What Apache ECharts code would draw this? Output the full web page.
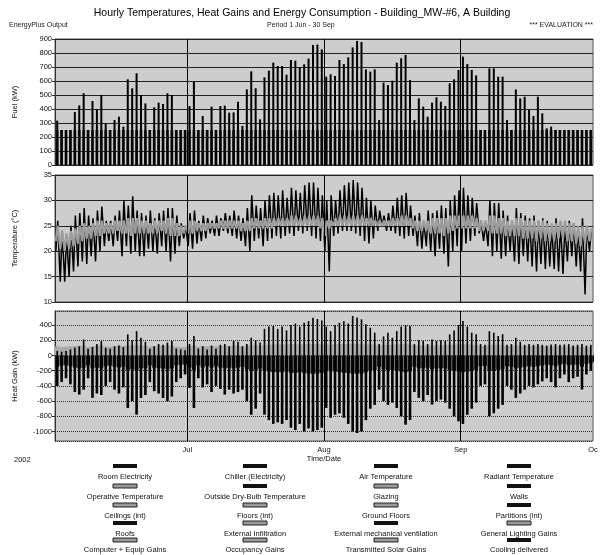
<!DOCTYPE html>
<html><head><meta charset="utf-8">
<script src="https://cdn.jsdelivr.net/npm/echarts@6/dist/echarts.min.js"></script>
<style>html,body{margin:0;padding:0;background:#fff}#c{width:604px;height:555px}</style>
</head><body><div id="c"></div>
<script>
// ---- data (day index 0 = 1 Jun 2002) ----
const monthDays = [30, 61, 92, 122];
const monthLabels = ['Jul', 'Aug', 'Sep', 'Oc'];

const fuelBase = [
250,250,250,250,250,250,250,250,250,250,
250,250,250,250,250,250,250,250,250,250,
250,250,250,250,250,250,250,250,250,250,
250,250,250,250,250,250,250,250,250,250,
250,250,250,250,250,250,250,250,250,250,
250,250,250,250,250,250,250,250,250,250,
250,250,250,250,250,250,250,250,250,250,
250,250,250,250,250,250,250,250,250,250,
250,250,250,250,250,250,250,250,250,250,
250,250,250,250,250,250,250,250,250,250,
250,250,250,250,250,250,250,250,250,250,
250,250,250,250,250,250,250,250,250,250,
250,250];
const fuelPeak = [
317,250,250,250,378,426,512,250,457,400,
500,298,250,321,345,274,612,548,655,498,
440,250,412,445,436,512,500,250,250,250,
421,595,250,350,250,417,250,421,424,374,
376,452,279,540,669,548,326,626,674,731,
707,707,645,750,745,698,719,760,857,860,
826,631,648,636,750,721,769,840,886,879,
683,667,683,321,588,571,602,731,762,786,
607,321,476,417,345,445,483,452,421,583,
612,679,774,721,679,640,250,250,690,690,
631,631,321,250,540,476,488,393,350,488,
369,262,274,250,250,250,250,250,250,250,
250,250];

const outMax = [
26,24,23,25,27,27.5,28.5,27,26.5,28,
28.8,26,26,27,28,30,29,30.8,28,27.5,
27,28,26.5,27.5,28,28.5,28.5,27,25.5,25,
27.5,28,26,27,26.5,26,27,26.5,27.5,27,
28,27,26.5,28.5,31,29,28.5,30,31,31.5,
31,32,30.5,32.5,32,31.5,33,33.5,33.5,32.5,31,
30,31,30,32,33,33.5,34,33.5,32.5,30.5,
30,29,28,27,27.5,29,30.5,31,31.5,29,
27,27.5,26,28,27.5,28,29,28.5,30,31,32,
32.5,31,30.5,29.5,26,25.5,30,29.5,29.5,28,
27,26,28.5,27.5,27,26.5,27,26,26.5,26,
25,26.5,25.5,25,26,25.5,24.5,26.5,25,24];
const outMin = [
20,14,14,15,16,17,18,17.5,19,18,
20,21,22,21,22,19,21,19.5,20,19,
19,20.5,20,19.5,21,20,18,19.5,21,22.5,
21,20.5,21.5,22,22.5,23.5,23,23,24,23.5,
23,22.5,22,21,20,22,22.5,21,22,22.5,
23,22.5,23,23.5,23,24,23.5,24,23,22.5,22,
20,16,23,23.5,24,24,24,23.5,23,22,
21.5,22.5,24,25,24,24,23.5,23,22.5,23,
23,21,20.5,21,20,19,20.5,19.5,17,20,21,
20,21.5,22,23,23.5,22,21,19,20,18.5,
19,20,18,17.5,19,18,17,16,17.5,16.5,
17,16.5,16,15.5,18,19,17,16,11.5,20];

const inMax = [
25,24,23.5,24,24.5,25,25.5,25,25.5,26,
26,25.5,25.5,26,26,26,26.5,26.5,26.5,26,
26,25.5,26,26,26,26.5,26.5,25.5,25,25,
26,26,25.5,25.5,25.5,25.5,25.5,26,26,26,
26,26,25.5,26,26.5,26.5,26,26.5,26.5,26.5,
26.5,26.5,26.5,27,27,26.5,27,27,27,27,
26.5,26,26,26.5,27,27,27,27,27,27,
26.5,26.5,26,26,26,26,26.5,26.5,27,27,
26.5,26,26,26,26,26.5,26.5,26.5,26.5,27,
27,27,27,27,27,26.5,26,26,27,27,
26.5,26.5,26,26,26.5,26.5,26,26,26,26,
26,25.5,25.5,25.5,26,26,25.5,25.5,25,25,
25,24.5];
const inMin = [
22,20.5,20,20.5,21,21.5,22,22.5,22.5,23,
23,23.5,23.5,23.5,24,23.5,23.5,23,23.5,23.5,
23.5,23.5,23.5,23.5,24,23.5,23,23,23,23.5,
23.5,23.5,24,24,24,24.5,24.5,24.5,24.5,24.5,
24.5,24.5,24,24,24,24.5,24.5,24.5,24.5,24.5,
25,25,25,25,25,25,25,25,25,25,
24.5,23,24.5,25,25,25,25,25,25,25,
25,25,25,25,25,25,25,25,25,25,
25,24.5,24,24,24,23.5,23.5,23.5,23,23.5,
24,24.5,24.5,24.5,24.5,24.5,24,24,24,23.5,
23.5,23.5,23,23,23,23,22.5,22.5,22.5,22,
22.5,22,22,22,22.5,22.5,22,22,21.5,21,
21.5,22];

const heatPos = [
60,50,60,80,100,120,210,90,110,150,
189,100,90,120,130,110,277,200,321,233,
180,90,120,150,140,170,189,90,80,70,
150,255,90,120,80,130,90,140,150,120,
190,180,120,150,233,200,170,350,380,387,
350,380,330,400,420,380,430,452,497,480,
460,380,320,400,430,450,420,520,500,475,
410,365,300,150,250,300,233,320,380,400,
387,150,200,190,150,211,190,200,190,277,
330,400,452,380,300,280,150,140,320,300,
255,280,140,150,233,180,140,150,140,150,
140,130,145,150,140,145,150,130,140,150,
130,140];
const heatNeg = [
-400,-350,-300,-380,-480,-514,-450,-300,-558,-500,
-520,-400,-350,-450,-500,-420,-690,-600,-778,-560,
-520,-350,-470,-500,-560,-600,-540,-350,-300,-250,
-426,-690,-300,-420,-380,-480,-400,-440,-514,-450,
-500,-480,-450,-600,-780,-700,-500,-778,-850,-900,
-880,-900,-850,-950,-980,-900,-1000,-960,-1000,-980,
-950,-690,-820,-780,-760,-820,-900,-1000,-1020,-1000,
-850,-700,-650,-450,-600,-650,-620,-690,-800,-910,
-850,-480,-558,-600,-520,-646,-600,-580,-620,-700,
-800,-866,-900,-780,-700,-620,-400,-380,-800,-760,
-700,-650,-400,-450,-558,-500,-450,-400,-420,-380,
-340,-300,-350,-420,-300,-250,-350,-300,-280,-448,
-250,-200];
const gainBand = [
120,110,115,120,125,130,130,115,125,125,
130,120,115,125,130,125,135,130,135,130,
125,115,125,130,130,130,130,115,110,110,
125,130,115,125,120,125,120,125,130,125,
130,130,125,130,135,135,130,140,140,145,
145,145,140,150,150,145,150,150,150,150,
145,140,140,145,150,150,150,155,155,150,
145,145,140,130,140,140,140,145,145,150,
145,130,135,135,130,135,135,135,135,140,
140,145,150,145,140,140,125,125,140,140,
135,135,125,125,130,130,125,125,125,125,
125,120,120,120,120,120,120,115,115,115,
115,110];
const negBase = [
-150,-130,-130,-140,-160,-170,-160,-130,-170,-160,
-170,-140,-130,-150,-160,-150,-190,-180,-200,-170,
-170,-130,-160,-170,-170,-180,-170,-130,-120,-120,
-160,-190,-130,-160,-140,-160,-140,-160,-170,-160,
-170,-160,-150,-180,-200,-190,-170,-200,-210,-220,
-220,-220,-210,-230,-230,-220,-230,-240,-240,-240,
-230,-190,-210,-210,-220,-230,-230,-240,-240,-240,
-220,-200,-190,-150,-180,-190,-190,-200,-210,-220,
-210,-150,-170,-170,-160,-180,-170,-170,-170,-190,
-200,-210,-220,-210,-200,-190,-140,-140,-200,-200,
-190,-180,-140,-150,-170,-160,-150,-140,-150,-140,
-130,-120,-130,-140,-120,-110,-130,-120,-120,-150,
-110,-100];

const legendNames = [
'Room Electricity','Chiller (Electricity)','Air Temperature','Radiant Temperature',
'Operative Temperature','Outside Dry-Bulb Temperature','Glazing','Walls',
'Ceilings (int)','Floors (int)','Ground Floors','Partitions (int)',
'Roofs','External Infiltration','External mechanical ventilation','General Lighting Gains',
'Computer + Equip Gains','Occupancy Gains','Transmitted Solar Gains','Cooling delivered'];
const legendKinds = [
'solid','solid','solid','solid',
'dot','solid','dot','solid',
'dot','dot','dot','solid',
'solid','dot','solid','dot',
'dot','dot','dot','solid'];

// ---- build chart ----
const FONT = '"Liberation Sans", Arial, sans-serif';
const chart = echarts.init(document.getElementById('c'));

function rangeBars(arrTop, arrBottom) {
  return arrTop.map((v, d) => [d + 0.5, arrBottom ? arrBottom[d] : 0, v]);
}
function zigzag(lo, hi) {
  const out = [];
  lo.forEach((v, d) => { out.push([d + 0.2, v]); out.push([d + 0.62, hi[d]]); });
  return out;
}
function barRenderer(width, fill) {
  return function (params, api) {
    const p0 = api.coord([api.value(0), api.value(1)]);
    const p1 = api.coord([api.value(0), api.value(2)]);
    return {
      type: 'rect',
      shape: { x: p0[0] - width / 2, y: Math.min(p0[1], p1[1]), width: width, height: Math.abs(p1[1] - p0[1]) },
      style: { fill: fill }
    };
  };
}
function customBars(grid, data, width, fill, z) {
  return {
    type: 'custom', xAxisIndex: grid, yAxisIndex: grid, data: data, z: z || 2,
    renderItem: barRenderer(width, fill), encode: { x: 0, y: [1, 2] }, clip: true, silent: true, animation: false
  };
}
function monthLines(grid) {
  return {
    type: 'line', xAxisIndex: grid, yAxisIndex: grid, data: [], silent: true, z: 5,
    markLine: {
      silent: true, symbol: ['none', 'none'], animation: false,
      label: { show: false },
      lineStyle: { color: '#000', type: 'solid', width: 1 },
      data: monthDays.slice(0, 3).map(v => ({ xAxis: v }))
    }
  };
}

const gridStyle = { show: true, backgroundColor: '#cdcdcd', borderColor: '#555', borderWidth: 1, left: 55, right: 11 };
const yCommon = {
  axisLine: { show: true, lineStyle: { color: '#333' } },
  axisTick: { show: true, length: 3, lineStyle: { color: '#333' } },
  axisLabel: { fontSize: 7.5, color: '#111', fontFamily: FONT, margin: 3, formatter: v => String(v) },
  nameLocation: 'middle', nameRotate: 90,
  nameTextStyle: { fontSize: 7.5, color: '#111', fontFamily: FONT }
};
function xAx(grid, show) {
  return {
    type: 'value', gridIndex: grid, min: 0, max: 122,
    splitLine: { show: false }, axisLine: { show: false },
    axisTick: show ? { show: true, length: 6, customValues: monthDays, lineStyle: { color: '#000' } } : { show: false },
    axisLabel: show ? {
      show: true, customValues: monthDays, fontSize: 7.5, color: '#111', fontFamily: FONT, margin: 5,
      formatter: v => monthLabels[monthDays.indexOf(v)]
    } : { show: false },
    name: show ? 'Time/Date' : '', nameLocation: 'middle', nameGap: 13,
    nameTextStyle: { fontSize: 7.5, color: '#111', fontFamily: FONT }
  };
}

const graphics = [];
const colX = [125, 255, 386, 519];
const rowSampleY = [466, 486, 505, 523, 540];
const rowTextY = [477, 497, 516, 534, 550];
legendNames.forEach((n, i) => {
  const c = i % 4, r = Math.floor(i / 4);
  const solid = legendKinds[i] === 'solid';
  graphics.push({
    type: 'rect', silent: true,
    shape: { x: colX[c] - 12, y: rowSampleY[r] - 2, width: 24, height: 4 },
    style: solid ? { fill: '#111' } : { fill: '#9a9a9a', stroke: '#222', lineWidth: 1 }
  });
  graphics.push({
    type: 'text', silent: true, x: colX[c], y: rowTextY[r],
    style: { text: n, fill: '#111', font: '7.5px ' + FONT, textAlign: 'center', textVerticalAlign: 'middle', align: 'center', verticalAlign: 'middle' }
  });
});
graphics.push({ type: 'text', silent: true, x: 14, y: 460,
  style: { text: '2002', fill: '#111', font: '7.5px ' + FONT, textVerticalAlign: 'middle', verticalAlign: 'middle' } });

const option = {
  animation: false,
  backgroundColor: '#fff',
  title: [
    { text: 'Hourly Temperatures, Heat Gains and Energy Consumption - Building_MW-#6, A Building', left: 'center', top: 3,
      textStyle: { fontSize: 10.5, fontWeight: 'normal', color: '#000', fontFamily: FONT } },
    { text: 'EnergyPlus Output', left: 4, top: 17, textStyle: { fontSize: 7, fontWeight: 'normal', color: '#222', fontFamily: FONT } },
    { text: 'Period 1 Jun - 30 Sep', left: 262, top: 17, textStyle: { fontSize: 7, fontWeight: 'normal', color: '#222', fontFamily: FONT } },
    { text: '*** EVALUATION ***', right: 6, top: 17, textStyle: { fontSize: 7, fontWeight: 'normal', color: '#222', fontFamily: FONT } }
  ],
  grid: [
    Object.assign({}, gridStyle, { top: 39, height: 126 }),
    Object.assign({}, gridStyle, { top: 175, height: 127 }),
    Object.assign({}, gridStyle, { top: 311, height: 130 })
  ],
  xAxis: [xAx(0, false), xAx(1, false), xAx(2, true)],
  yAxis: [
    Object.assign({}, yCommon, { type: 'value', gridIndex: 0, min: 0, max: 900, interval: 100, name: 'Fuel (kW)', nameGap: 36,
      splitLine: { show: true, lineStyle: { color: '#222', width: 1 } } }),
    Object.assign({}, yCommon, { type: 'value', gridIndex: 1, min: 10, max: 35, interval: 5, name: 'Temperature (°C)', nameGap: 36,
      splitLine: { show: true, lineStyle: { color: '#222', width: 1 } } }),
    Object.assign({}, yCommon, { type: 'value', gridIndex: 2, min: -1125, max: 585, splitNumber: 9, name: 'Heat Gain (kW)', nameGap: 36,
      axisLabel: Object.assign({}, yCommon.axisLabel, { showMinLabel: false, showMaxLabel: false }),
      splitLine: { show: true, lineStyle: { color: '#333', width: 1, type: [1, 1] } } })
  ],
  graphic: { elements: graphics },
  series: [
    customBars(0, rangeBars(fuelBase), 2.8, '#2a2a2a', 2),
    customBars(0, rangeBars(fuelPeak), 2.0, '#000', 3),
    monthLines(0),
    { type: 'line', xAxisIndex: 1, yAxisIndex: 1, data: zigzag(outMin, outMax), showSymbol: false, symbol: 'none',
      lineStyle: { color: '#000', width: 1.5 }, z: 3, silent: true },
    { type: 'line', xAxisIndex: 1, yAxisIndex: 1, data: zigzag(inMin, inMax), showSymbol: false, symbol: 'none',
      lineStyle: { color: '#9d9d9d', width: 2.2 }, z: 4, silent: true },
    monthLines(1),
    customBars(2, rangeBars(gainBand), 4.4, '#a9a9a9', 2),
    customBars(2, rangeBars(negBase), 4.0, '#1a1a1a', 2),
    customBars(2, rangeBars(heatPos), 1.6, '#000', 3),
    customBars(2, rangeBars(heatNeg), 2.6, '#000', 3),
    monthLines(2)
  ]
};
chart.setOption(option);
</script>
</body></html>
